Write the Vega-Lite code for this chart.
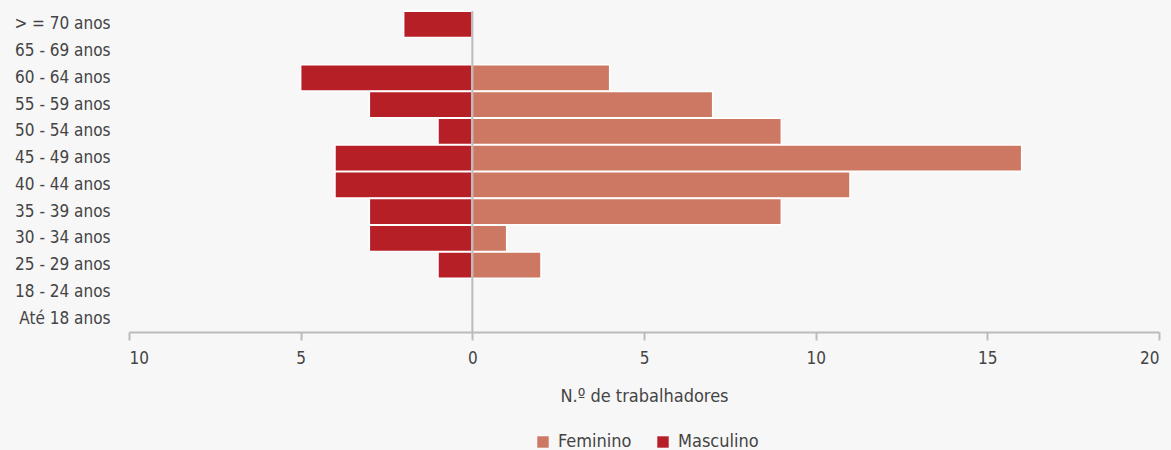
{
  "$schema": "https://vega.github.io/schema/vega-lite/v6.json",
  "width": 1030,
  "height": 321,
  "autosize": {"type": "none"},
  "padding": {"left": 129, "top": 11, "right": 12, "bottom": 118},
  "background": "#f7f7f7",
  "config": {
    "view": {"stroke": null},
    "font": "'DejaVu Sans Condensed', Roboto, sans-serif",
    "axis": {"labelFont": "'DejaVu Sans Condensed', Roboto, sans-serif", "titleFont": "'DejaVu Sans Condensed', Roboto, sans-serif", "labelColor": "#444", "titleColor": "#444"},
    "legend": {"labelFont": "'DejaVu Sans Condensed', Roboto, sans-serif", "labelColor": "#444"}
  },
  "data": {
    "values": [
      {"idade": "> = 70 anos", "sexo": "Masculino", "n": -2},
      {"idade": "65 - 69 anos", "sexo": "Masculino", "n": 0},
      {"idade": "60 - 64 anos", "sexo": "Masculino", "n": -5},
      {"idade": "55 - 59 anos", "sexo": "Masculino", "n": -3},
      {"idade": "50 - 54 anos", "sexo": "Masculino", "n": -1},
      {"idade": "45 - 49 anos", "sexo": "Masculino", "n": -4},
      {"idade": "40 - 44 anos", "sexo": "Masculino", "n": -4},
      {"idade": "35 - 39 anos", "sexo": "Masculino", "n": -3},
      {"idade": "30 - 34 anos", "sexo": "Masculino", "n": -3},
      {"idade": "25 - 29 anos", "sexo": "Masculino", "n": -1},
      {"idade": "18 - 24 anos", "sexo": "Masculino", "n": 0},
      {"idade": "Até 18 anos", "sexo": "Masculino", "n": 0},
      {"idade": "> = 70 anos", "sexo": "Feminino", "n": 0},
      {"idade": "65 - 69 anos", "sexo": "Feminino", "n": 0},
      {"idade": "60 - 64 anos", "sexo": "Feminino", "n": 4},
      {"idade": "55 - 59 anos", "sexo": "Feminino", "n": 7},
      {"idade": "50 - 54 anos", "sexo": "Feminino", "n": 9},
      {"idade": "45 - 49 anos", "sexo": "Feminino", "n": 16},
      {"idade": "40 - 44 anos", "sexo": "Feminino", "n": 11},
      {"idade": "35 - 39 anos", "sexo": "Feminino", "n": 9},
      {"idade": "30 - 34 anos", "sexo": "Feminino", "n": 1},
      {"idade": "25 - 29 anos", "sexo": "Feminino", "n": 2},
      {"idade": "18 - 24 anos", "sexo": "Feminino", "n": 0},
      {"idade": "Até 18 anos", "sexo": "Feminino", "n": 0}
    ]
  },
  "layer": [
    {
      "mark": {"type": "bar", "stroke": "white", "strokeWidth": 1.5},
      "encoding": {
        "y": {
          "field": "idade", "type": "nominal", "sort": null,
          "scale": {"paddingInner": 0.02, "paddingOuter": 0.01},
          "axis": {"title": null, "domain": false, "ticks": false, "labelPadding": 19, "labelFontSize": 17}
        },
        "x": {
          "field": "n", "type": "quantitative", "stack": null,
          "scale": {"domain": [-10, 20], "nice": false},
          "axis": {
            "values": [-10, -5, 0, 5, 10, 15, 20],
            "labelExpr": "abs(datum.value)",
            "grid": false,
            "domainColor": "#bbbbbb", "domainWidth": 2,
            "tickColor": "#bbbbbb", "tickWidth": 2, "tickSize": 8,
            "labelPadding": 10, "labelFontSize": 17,
            "title": "N.º de trabalhadores", "titleFontSize": 18, "titleFontWeight": "normal", "titlePadding": 21
          }
        },
        "color": {
          "field": "sexo", "type": "nominal",
          "scale": {"domain": ["Feminino", "Masculino"], "range": ["#cd7862", "#b71f26"]},
          "legend": {
            "title": null, "orient": "none", "direction": "horizontal",
            "legendX": 405, "legendY": 422,
            "symbolType": "square", "symbolSize": 130, "symbolStrokeWidth": 0,
            "labelFontSize": 18, "columnPadding": 22, "labelOffset": 6
          }
        }
      }
    },
    {
      "data": {"values": [{"x": 0}]},
      "mark": {"type": "rule", "color": "#bbbbbb", "strokeWidth": 2},
      "encoding": {"x": {"field": "x", "type": "quantitative"}}
    }
  ]
}
